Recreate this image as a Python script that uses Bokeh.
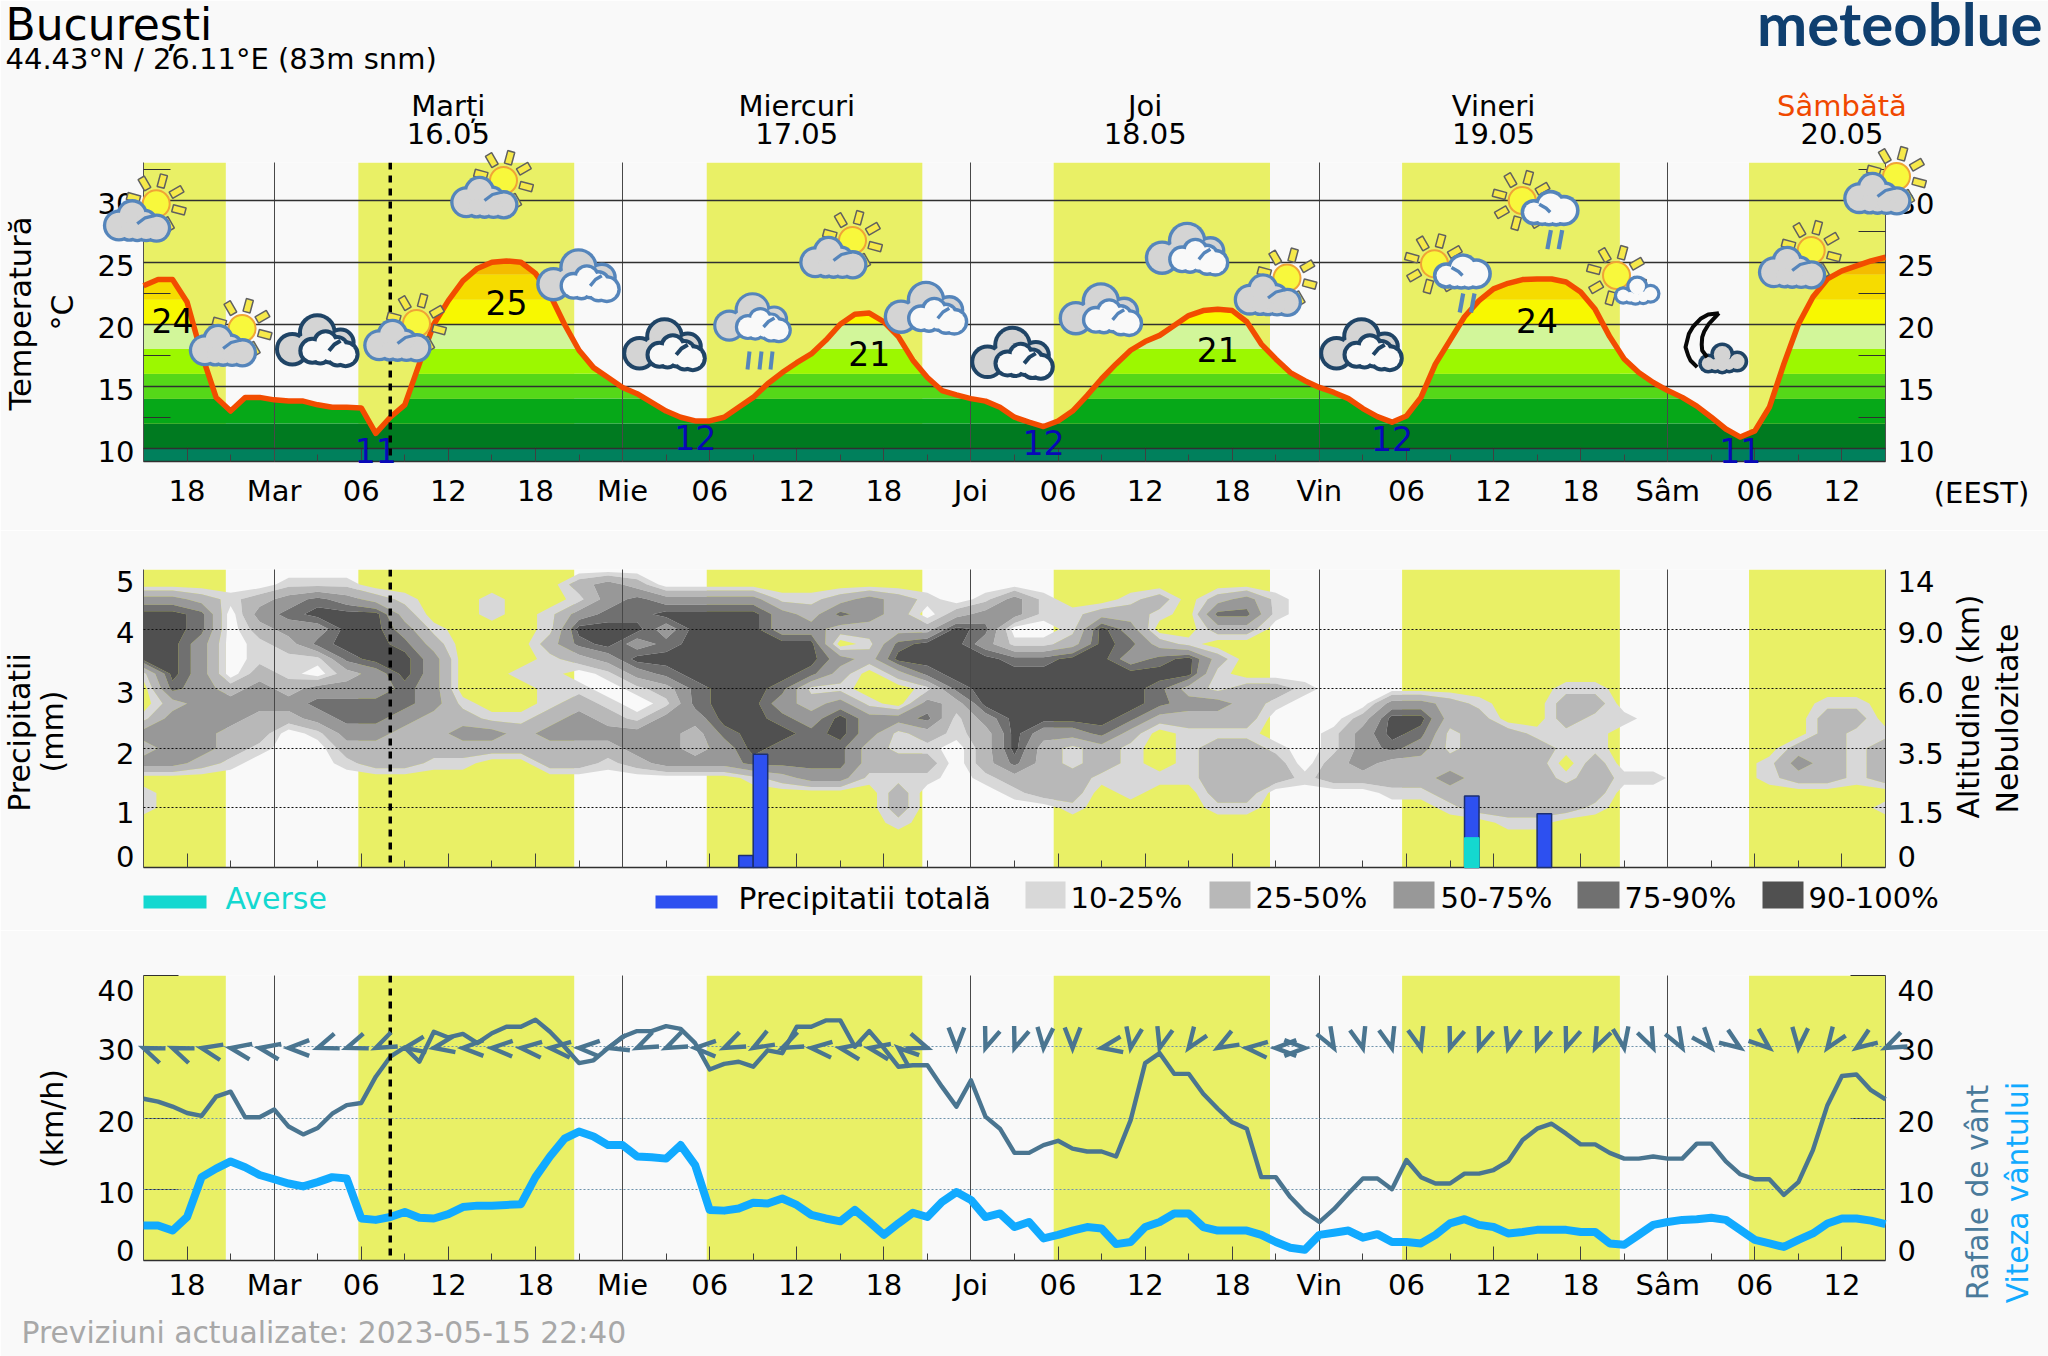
import numpy as np
from math import cos, sin, radians, pi
from bokeh.plotting import figure
from bokeh.models import (Range1d, LinearAxis, FixedTicker, Grid, Span, Column, ColumnDataSource)
from bokeh.core.properties import value
from bokeh.embed import file_html
from bokeh.resources import INLINE

# ------------------------------------------------------------------ data
HOURS = list(range(15, 136))
TEMP = [23.1,23.6,23.6,21.8,17.6,14.1,13.0,14.1,14.1,13.9,13.8,13.8,13.5,13.3,13.3,13.25,11.2,12.5,13.5,16.8,
        20.0,21.9,23.5,24.5,25.0,25.1,25.0,24.1,22.4,20.0,17.9,16.5,15.7,14.9,14.4,13.7,13.0,12.5,12.2,12.2,
        12.5,13.3,14.1,15.2,16.1,16.9,17.6,18.7,20.0,20.8,20.9,20.2,19.0,17.1,15.7,14.65,14.3,14.0,13.8,13.3,
        12.5,12.1,11.75,12.2,13.0,14.25,15.6,16.8,17.9,18.6,19.1,19.9,20.7,21.1,21.2,21.1,20.2,18.4,17.2,16.1,
        15.45,14.9,14.5,14.0,13.2,12.55,12.1,12.6,14.1,16.8,18.7,20.6,21.9,22.85,23.3,23.6,23.65,23.65,23.4,22.6,
        21.2,19.0,17.2,16.1,15.3,14.65,14.1,13.4,12.5,11.55,10.9,11.4,13.3,16.8,20.0,22.2,23.65,24.3,24.7,25.1,25.4]
GUST = [22.7,22.3,21.6,20.7,20.3,23.0,23.7,20.1,20.1,21.2,18.8,17.7,18.6,20.6,21.8,22.1,25.8,28.6,29.9,27.9,
        32.1,31.3,31.8,30.5,31.9,32.8,32.8,33.8,32.1,30.0,27.7,28.1,29.8,31.4,32.2,32.2,32.9,32.5,30.5,26.8,
        27.6,27.9,27.2,29.5,29.1,32.8,32.8,33.7,33.7,30.0,32.2,29.8,27.2,27.4,27.4,24.4,21.6,25.3,20.2,18.5,
        15.1,15.1,16.2,16.8,15.7,15.3,15.3,14.6,19.7,27.7,29.1,26.2,26.2,23.4,21.3,19.4,18.5,11.7,11.7,8.9,
        6.8,5.4,7.2,9.4,11.5,11.5,10.0,14.1,11.7,10.8,10.8,12.2,12.2,12.7,13.9,16.9,18.5,19.2,17.8,16.3,
        16.3,15.1,14.3,14.3,14.6,14.3,14.3,16.4,16.4,13.9,12.1,11.4,11.4,9.2,11.0,15.5,21.8,25.9,26.1,23.9,22.6]
WIND = [4.9,4.9,4.2,6.1,11.7,12.9,13.9,13.1,12.0,11.4,10.8,10.4,11.0,11.7,11.5,5.9,5.7,6.1,6.8,6.0,
        5.9,6.5,7.5,7.7,7.7,7.8,7.9,11.7,14.6,17.1,18.1,17.4,16.2,16.2,14.6,14.5,14.3,16.2,13.4,7.1,
        7.0,7.3,8.1,8.0,8.7,7.8,6.4,5.9,5.5,7.1,5.4,3.6,5.2,6.7,6.1,8.2,9.6,8.5,6.1,6.6,
        4.7,5.4,3.1,3.6,4.2,4.7,4.5,2.3,2.6,4.7,5.4,6.6,6.6,4.7,4.2,4.2,4.2,3.6,2.6,1.8,
        1.5,3.6,3.9,4.2,3.2,3.7,2.6,2.6,2.4,3.6,5.2,5.8,5.0,4.7,3.8,4.0,4.3,4.3,4.3,4.0,
        4.0,2.4,2.2,3.6,5.0,5.4,5.7,5.8,6.0,5.7,4.3,2.9,2.4,1.9,2.9,3.8,5.2,5.9,5.9,5.6,5.1]
ARROW_HOURS = list(range(15, 136, 2))
ARROW_DIR = [158,158,168,170,170,180,200,200,205,190,190,180,178,175,175,178,195,205,205,178,205,210,205,175,170,
             170,140,340,270,250,250,265,270,190,260,255,235,210,175,180,0,300,285,285,285,250,250,255,250,250,245,
             280,295,300,310,325,320,265,235,215,205]
DAYLIGHT_START = [15, 29.8, 53.8, 77.7, 101.7, 125.6]
DAYLIGHT_END = [20.67, 44.67, 68.65, 92.6, 116.7, 135]
NOW_HOUR = 32
BAR_LEFT = [56, 57, 106, 111]
BAR_RIGHT = [57, 58, 107, 112]
BAR_TOTAL = [0.2, 1.9, 1.2, 0.9]
SHOWER_LEFT = [106]
SHOWER_RIGHT = [107]
SHOWER = [0.5]
TEMP_BANDS = [0, 10, 12, 14, 16, 18, 20, 22, 24, 26]
BAND_COLORS = ["#00805c", "#007a20", "#06a818", "#55d818", "#9cf800", "#d2f69a", "#f8f800", "#f6dc00", "#f4bc00"]
MAX_HOURS = [17, 40, 65, 89, 111]
MAX_LABELS = ["24", "25", "21", "21", "24"]
MIN_HOURS = [31, 53, 77, 101, 125]
MIN_LABELS = ["11", "12", "12", "12", "11"]
DAY_HOURS = [36, 60, 84, 108, 132]
DAY_NAMES = ["Marți", "Miercuri", "Joi", "Vineri", "Sâmbătă"]
DAY_DATES = ["16.05", "17.05", "18.05", "19.05", "20.05"]
X_TICKS = list(range(18, 133, 6))
X_MINOR = list(range(15, 136, 6))
X_LABELS = ["18","Mar","06","12","18","Mie","06","12","18","Joi","06","12","18","Vin","06","12","18","Sâm","06","12"]
DAY_LINES = [24, 48, 72, 96, 120]
TEMP_TICKS = [10, 15, 20, 25, 30]
TEMP_MINOR = [12.5, 17.5, 22.5, 27.5, 32.5]
PRECIP_TICKS = [0, 1, 2, 3, 4, 5]
ALT_LABELS = ["0", "1.5", "3.5", "6.0", "9.0", "14"]
WIND_TICKS = [0, 10, 20, 30, 40]
LEGEND_CLOUD = ["10-25%", "25-50%", "50-75%", "75-90%", "90-100%"]
CLOUD_COLORS = ["#d8d8d8", "#b8b8b8", "#989898", "#707070", "#505050"]
CLOUD_LEVELS = [10, 25, 50, 75, 90, 101]

# Cloud cover, read every 2 h (columns) from level 5.0 down by 0.25 (characters); class of the band
CLOUD_HOURS = list(range(15, 136, 2))
CLOUD_COLUMNS = [
 "..355551..1323.11", "..355555423333.", "..244333333332", "..1.....233221", "..23211233221", ".1343211232",
 ".145341.3431", ".1355542344321", "..255553344322", "..123455443222", "....1233332221", ".........12321",
 "..11......132", ".......1..122", "...11211112322", ".213542.123322", ".3345531.12321", ".24453531.1332",
 "..353454213333", "..355555443223", "..355555555433", "..3555555555541", "..1335554345442", "..1235541234443",
 "..242.321355443", "..33212..133221", "..222452..31121221", "..1.25541342121", "...255554211",
 "..1343555532221", "..33.14555555421", "..11.14555532222", "...11255555311221", "...255555554221",
 "..12343555421111", "..21.245442...1", ".....1552321111", "..242.21132122221", "..342...222122221",
 "..11....21..122", "........1.....1", "...........1122", "..........23332", ".........3554221",
 ".........3543221", ".........22112321", ".........12222222", "...........2222221", "...........1222221",
 "........12211.122", "........121112221", "..........1...1", "..............1", "", "", "",
 ".............11", "............232", ".........122222", ".........121111", "...........1222.1",
]
CLASS_VALUE = {".": 0, "1": 18, "2": 38, "3": 62, "4": 82, "5": 97}

# weather symbols: centre positions on the page
ICON_SUN_CLOUD = [(136.7,220.3),(222.6,345),(397,340),(484,197),(833,257),(1267.5,294.5),(1791.7,267),(1877,193)]
ICON_DARK = [(316.8,340),(664,344),(1012,352.6),(1361,344)]
ICON_LIGHT = [(578,275),(925.5,307.5),(1186.6,248.5),(1100.4,309)]
ICON_RAIN = [(752,319)]
ICON_SUN_RAIN = [(1462,271),(1549.7,207.7)]
ICON_SUN_SMALL = [(1636.7,290.3)]
ICON_MOON = [(1721.7,358)]

# ------------------------------------------------------------------ layout
W, H = 2048, 1356
L, R = 143, 1885
BG = "#f9f9f9"
YELLOW = "#e9f066"
FONT = "DejaVu Sans"
FS = "29px"
DARK = "#303030"
GUST_C = "#4a7590"
WIND_C = "#11aaff"
BLUE = "#5585bb"
NAVY = "#1f4466"

def hx(h):
    return L + (np.asarray(h, dtype=float) - 15) * (R - L) / 120.0

def panel(height, top, bottom, y0, y1):
    p = figure(width=W, height=height, x_range=Range1d(15, 135), y_range=Range1d(y0, y1),
               x_axis_type=None, y_axis_type=None, toolbar_location=None, output_backend="svg",
               min_border_left=L, min_border_right=W - R, min_border_top=top, min_border_bottom=bottom,
               background_fill_color=BG, border_fill_color=BG, outline_line_color=None)
    p.quad(left=DAYLIGHT_START, right=DAYLIGHT_END, bottom=y0, top=y1, fill_color=YELLOW, line_color=None)
    return p

def add_axes(p, positions, left_labels, right_labels, x_labels, minor_len, minor_vals, x_standoff=11):
    x_over = {t: l for t, l in zip(X_TICKS, x_labels)}
    ax = LinearAxis(ticker=FixedTicker(ticks=X_TICKS, minor_ticks=X_MINOR), major_label_overrides=x_over,
                    major_label_text_font=FONT, major_label_text_font_size=FS, major_label_standoff=x_standoff,
                    major_tick_in=14, major_tick_out=0, minor_tick_in=7, minor_tick_out=0,
                    axis_line_color=DARK, axis_line_width=1.5, major_tick_line_color="#404040",
                    minor_tick_line_color="#404040", major_label_text_color="black")
    p.add_layout(ax, "below")
    for side, labels, standoff in (("left", left_labels, 9), ("right", right_labels, 12)):
        a = LinearAxis(ticker=FixedTicker(ticks=positions, minor_ticks=minor_vals),
                       major_label_overrides={t: l for t, l in zip(positions, labels)},
                       major_label_text_font=FONT, major_label_text_font_size=FS, major_label_standoff=standoff,
                       major_tick_in=0, major_tick_out=0, minor_tick_in=minor_len, minor_tick_out=0,
                       axis_line_color="#505050", axis_line_width=1, minor_tick_line_color=DARK,
                       major_label_text_color="black")
        p.add_layout(a, side)

def add_grid(p, y_ticks, color, dash, width):
    p.add_layout(Grid(dimension=0, ticker=FixedTicker(ticks=DAY_LINES), grid_line_color="#484848",
                      grid_line_width=1, level="guide"))
    p.add_layout(Grid(dimension=1, ticker=FixedTicker(ticks=y_ticks), grid_line_color=color,
                      grid_line_dash=dash, grid_line_width=width, level="guide"))
    p.add_layout(Span(location=NOW_HOUR, dimension="height", line_color="black", line_width=3.5,
                      line_dash="7 6", level="overlay"))

# ---- temperature panel
p1 = panel(530, 162, 69, 8.93, 33.04)
fine_h = np.linspace(15, 135, 1201)
fine_t = np.interp(fine_h, HOURS, TEMP)
for lo, hi, col in zip(TEMP_BANDS[:-1], TEMP_BANDS[1:], BAND_COLORS):
    p1.varea(x=fine_h, y1=np.minimum(lo, fine_t), y2=np.minimum(hi, fine_t), fill_color=col)
add_grid(p1, TEMP_TICKS, "#303030", "solid", 1.5)
p1.line(HOURS, TEMP, line_color="#f24c00", line_width=5.5, line_join="round", level="overlay")
t_pos = [round(v - 3.0 / 12.4, 3) for v in TEMP_TICKS]
add_axes(p1, t_pos, [str(v) for v in TEMP_TICKS], [str(v) for v in TEMP_TICKS], X_LABELS, 27, TEMP_MINOR, 12)

# ---- clouds / precipitation panel
p2 = panel(400, 39, 63, 0, 5)
rows = np.arange(0, 5.01, 0.25)
z = np.zeros((len(rows), len(CLOUD_HOURS)))
for j, col in enumerate(CLOUD_COLUMNS):
    col = col.ljust(21, ".")
    for i, ch in enumerate(col):
        z[len(rows) - 1 - i, j] = CLASS_VALUE[ch]
p2.contour(x=np.array(CLOUD_HOURS, dtype=float), y=rows, z=z, levels=CLOUD_LEVELS, fill_color=CLOUD_COLORS,
           line_color=None)
add_grid(p2, PRECIP_TICKS, "#101010", "2 2", 1.2)
p2.quad(left=BAR_LEFT, right=BAR_RIGHT, bottom=0, top=BAR_TOTAL, fill_color="#2d50f0", line_color="#1c2f70",
        line_width=1.5, level="overlay")
p2.quad(left=SHOWER_LEFT, right=SHOWER_RIGHT, bottom=0, top=SHOWER, fill_color="#14d8d0", line_color="#14d8d0",
        line_width=1, level="overlay")
off2 = {0: -11, 1: 5, 2: 5, 3: 4, 4: 3, 5: 12}
p_pos = [round(v - off2[v] / 59.6, 3) for v in PRECIP_TICKS]
add_axes(p2, p_pos, [str(v) for v in PRECIP_TICKS], ALT_LABELS, [""] * len(X_TICKS), 0, [])

# ---- wind panel
p3 = panel(H - 930, 45, H - 1260, 0, 40)
add_grid(p3, WIND_TICKS, "#6f93ad", "2 2", 1.2)
p3.line(HOURS, GUST, line_color=GUST_C, line_width=4.4, line_join="round", level="overlay")
p3.line(HOURS, WIND, line_color=WIND_C, line_width=8, line_join="round", level="overlay")
off3 = {0: -10, 10: 3, 20: 3.5, 30: 3, 40: 15}
w_pos = [round(v - off3[v] / 7.125, 3) for v in WIND_TICKS]
add_axes(p3, w_pos, [str(v) for v in WIND_TICKS], [str(v) for v in WIND_TICKS], X_LABELS, 35, [10, 20, 40], 7)

# ---- overlay for everything that spills over the panels (page coordinates)
ov = figure(width=W, height=H, x_range=Range1d(0, W), y_range=Range1d(H, 0), x_axis_type=None, y_axis_type=None,
            toolbar_location=None, output_backend="svg", min_border=0, outline_line_color=None,
            background_fill_alpha=0, border_fill_alpha=0, frame_align=False,
            styles={"position": "absolute", "left": "0px", "top": "0px"})

def txt(x, y, s, size=FS, color="black", align="left", angle=0.0, font=FONT, style="normal", baseline="middle"):
    ov.text(x=[x], y=[y], text=[s], text_font=value(font), text_font_size=value(size), text_color=color,
            text_align=align, text_baseline=baseline, angle=angle, text_font_style=style)

# wind arrows
y30 = 1047.5
BL = 22.0
xs, ys = [], []
for h, d in zip(ARROW_HOURS, ARROW_DIR):
    tx = float(hx(h))
    pts_x, pts_y = [], []
    for s in (1, 0, -1):
        if s == 0:
            pts_x.append(tx); pts_y.append(y30)
        else:
            a = radians(d + 180 + s * 21)
            pts_x.append(tx + BL * cos(a)); pts_y.append(y30 - BL * sin(a))
    xs.append(pts_x); ys.append(pts_y)
ov.multi_line(xs, ys, line_color=GUST_C, line_width=4.4, line_join="miter")

# weather symbols
layers = {k: {"x": [], "y": [], "r": [], "c": []} for k in ("bo", "bf", "fo", "ff")}
rays_x, rays_y, sun_x, sun_y = [], [], [], []
st_x, st_y, st_c, st_w = [], [], [], []

def bumps(cx, cy, parts, outline, fill, stroke, out_layer, fill_layer, scale=1.0):
    for dx, dy, r in parts:
        for lay, rr, col in ((out_layer, r, outline), (fill_layer, r - stroke, fill)):
            layers[lay]["x"].append(cx + dx * scale)
            layers[lay]["y"].append(cy + dy * scale)
            layers[lay]["r"].append(rr * scale)
            layers[lay]["c"].append(col)

def stroke(points, color, width):
    st_x.append([q[0] for q in points]); st_y.append([q[1] for q in points])
    st_c.append(color); st_w.append(width)

def sun(cx, cy):
    sun_x.append(cx); sun_y.append(cy)
    for ang in (-15, 30, 75, 120, 165, 210, 255, 300):
        a = radians(ang)
        ux, uy = cos(a), -sin(a)
        vx, vy = -uy, ux
        r0, r1, w = 17.0, 30.0, 3.6
        rays_x.append([cx + ux * r0 + vx * w, cx + ux * r1 + vx * w, cx + ux * r1 - vx * w, cx + ux * r0 - vx * w])
        rays_y.append([cy + uy * r0 + vy * w, cy + uy * r1 + vy * w, cy + uy * r1 - vy * w, cy + uy * r0 - vy * w])

GRAY_CLOUD = [(-18.3, 4.7, 16), (-5, -6, 15.7), (19.3, 7.3, 14.7), (0, 9.7, 11.7), (9, 9.5, 12), (-8, 9.5, 11.5), (8, 0, 12)]
BACK_CLOUD = [(-25, 8.7, 17.3), (0, -8, 19.3), (23.3, 2, 15), (26, 10, 13), (-10, 5, 15)]
FRONT_CLOUD = [(-5, 10.3, 14), (8.3, 2, 13.3), (28.3, 13.7, 14), (12, 14, 10), (20, 6.5, 12), (20, 14.5, 12.5), (3, 14, 11)]
WHITE_CLOUD = [(-16.3, 4, 13.3), (0.3, -2.7, 15.7), (13.7, 2.3, 15.7), (-1.3, 7.3, 11), (-8, 8, 10), (6, 8, 10.5)]
SMALL_CLOUD = [(-14, 4.7, 9.3), (0, -4.3, 11), (13.3, 3, 10), (-1.7, 7, 8), (6, 6, 8.5), (-7, 6, 8)]
MOON_CLOUD = [(-14, 5, 10), (0, -4, 12), (15, 3, 11), (0, 7, 9), (7, 6, 9), (-7, 6, 9)]

for cx, cy in ICON_SUN_CLOUD:
    sun(cx + 19, cy - 17)
    bumps(cx, cy, GRAY_CLOUD, BLUE, "#d4d4d4", 3.3, "fo", "ff")
    stroke([(cx, cy + 3), (cx + 8, cy - 3), (cx + 18, cy - 5.5)], BLUE, 3.3)
for cx, cy in ICON_DARK:
    bumps(cx, cy, BACK_CLOUD, NAVY, "#d4d4d4", 4, "bo", "bf")
    bumps(cx, cy, FRONT_CLOUD, NAVY, "#f9f9f9", 4, "fo", "ff")
    stroke([(cx + 11.7, cy + 10.3), (cx + 17, cy + 4), (cx + 23.3, cy + 0.3)], NAVY, 4)
for cx, cy in ICON_LIGHT:
    bumps(cx, cy, BACK_CLOUD, BLUE, "#d4d4d4", 3.4, "bo", "bf")
    bumps(cx, cy, FRONT_CLOUD, BLUE, "#f9f9f9", 3.4, "fo", "ff")
    stroke([(cx + 11.7, cy + 10.3), (cx + 17, cy + 4), (cx + 23.3, cy + 0.3)], BLUE, 3.4)
for cx, cy in ICON_RAIN:
    bumps(cx, cy - 2, BACK_CLOUD, BLUE, "#d4d4d4", 3.4, "bo", "bf", 0.93)
    bumps(cx, cy - 2, FRONT_CLOUD, BLUE, "#f9f9f9", 3.4, "fo", "ff", 0.93)
    stroke([(cx + 11, cy + 7.5), (cx + 16, cy + 2), (cx + 22, cy - 1.5)], BLUE, 3.4)
    for dx in (-5, 7, 18):
        stroke([(cx + dx + 2, cy + 32), (cx + dx, cy + 50)], BLUE, 4)
for cx, cy in ICON_SUN_RAIN:
    sun(cx - 28, cy - 7.7)
    bumps(cx, cy, WHITE_CLOUD, BLUE, "#f9f9f9", 3.6, "fo", "ff")
    stroke([(cx - 11, cy - 4), (cx - 4, cy + 0), (cx, cy + 4)], BLUE, 3.4)
    for dx in (-1.3, 10):
        stroke([(cx + dx + 2, cy + 22), (cx + dx - 1.5, cy + 41)], BLUE, 4.2)
for cx, cy in ICON_SUN_SMALL:
    sun(cx - 20.7, cy - 15.3)
    bumps(cx, cy, SMALL_CLOUD, BLUE, "#f9f9f9", 3.2, "fo", "ff")
for cx, cy in ICON_MOON:
    moon = [(-3.3, -45.3), (-14, -44), (-21.7, -39.7), (-29, -32), (-33.3, -24.7), (-36.7, -11.3), (-34, -3), (-31.7, 2), (-25, 8.7)]
    moon2 = [(-3.3, -45.3), (-13.3, -34.7), (-18, -27), (-20, -21.3), (-20.5, -14), (-20, -8), (-15, -1.3)]
    stroke([(cx + a, cy + b) for a, b in moon], "#080808", 4)
    stroke([(cx + a, cy + b) for a, b in moon2], "#080808", 4)
    bumps(cx, cy, MOON_CLOUD, NAVY, "#d4d4d4", 3.6, "fo", "ff")

ov.patches(rays_x, rays_y, fill_color="#f6e94a", line_color="#606060", line_width=1.5)
ov.circle(x=sun_x, y=sun_y, radius=13.5, fill_color="#f8f83c", line_color="#f0a436", line_width=2)
for k in ("bo", "bf", "fo", "ff"):
    d = layers[k]
    ov.circle(x="x", y="y", radius="r", fill_color="c", line_color=None, source=ColumnDataSource(d))
ov.multi_line(xs="x", ys="y", line_color="c", line_width="w", line_cap="butt",
              source=ColumnDataSource(dict(x=st_x, y=st_y, c=st_c, w=st_w)))

# texts
txt(5, 24, "București", size="44px")
txt(5, 58, "44.43°N / 26.11°E (83m snm)")
txt(2042, 22, "meteoblue", size="60px", color="#0f3f6f", align="right", font="Lato", style="bold")
for h, n, d in zip(DAY_HOURS, DAY_NAMES, DAY_DATES):
    c = "#f04800" if n == "Sâmbătă" else "black"
    txt(float(hx(h)), 105, n, color=c, align="center")
    txt(float(hx(h)), 133, d, align="center")
for h, s, y in zip(MAX_HOURS, MAX_LABELS, [320, 302, 353, 349, 320]):
    txt(float(hx(h)), y, s, size="33px", align="center")
for h, s, y in zip(MIN_HOURS, MIN_LABELS, [450, 437, 442, 438, 450]):
    txt(float(hx(h)), y, s, size="33px", color="#0808b8", align="center")
txt(1981, 492, "(EEST)", align="center")
txt(20, 313, "Temperatură", size="30.5px", align="center", angle=pi / 2)
txt(62, 312, "°C", size="30px", align="center", angle=pi / 2)
txt(19, 732, "Precipitatii", size="30px", align="center", angle=pi / 2)
txt(52, 731, "(mm)", size="30px", align="center", angle=pi / 2)
txt(52, 1118, "(km/h)", size="30px", align="center", angle=pi / 2)
txt(1968, 706, "Altitudine (km)", size="30px", align="center", angle=pi / 2)
txt(2007, 718, "Nebulozitate", size="30px", align="center", angle=pi / 2)
txt(1977, 1192, "Rafale de vânt", size="29.7px", color="#4a7a9a", align="center", angle=pi / 2)
txt(2017, 1192, "Viteza vântului", size="29.7px", color=WIND_C, align="center", angle=pi / 2)
txt(21, 1332, "Previziuni actualizate: 2023-05-15 22:40", size="29.8px", color="#a8a8a8")

# legend
ov.quad(left=[143], right=[206], top=[895], bottom=[908], fill_color="#14d8d0", line_color=None)
txt(225, 898, "Averse", size="30px", color="#14d8d0")
ov.quad(left=[655], right=[717], top=[895], bottom=[908], fill_color="#2d50f0", line_color=None)
txt(738, 898, "Precipitatii totală", size="29.7px")
for x0, x1, tx_, col, lab in zip([1025, 1209, 1393, 1577, 1762], [1065, 1250, 1434, 1619, 1803],
                                 [1070, 1255, 1440, 1624, 1808], CLOUD_COLORS, LEGEND_CLOUD):
    ov.quad(left=[x0], right=[x1], top=[881], bottom=[908], fill_color=col, line_color=None)
    txt(tx_, 897, lab)

page = Column(children=[p1, p2, p3, ov], spacing=0, styles={"position": "relative"})
open("out.html", "w").write(file_html(page, INLINE))
